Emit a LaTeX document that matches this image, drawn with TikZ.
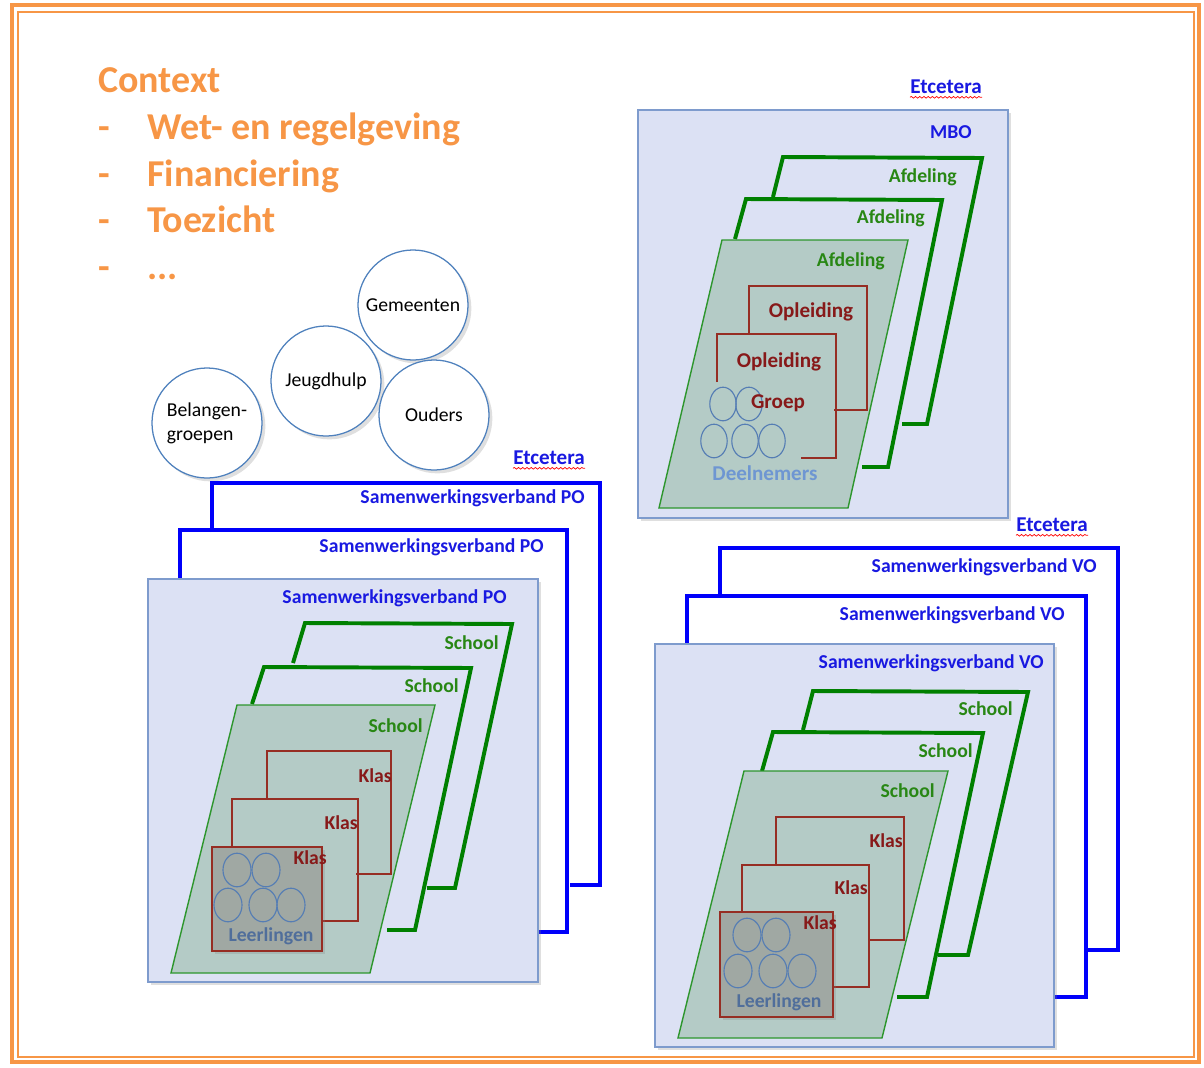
\documentclass[tikz,border=0pt]{standalone}
\usepackage{fontspec}
\setmainfont{Carlito}
\usepackage{tikz}
\usetikzlibrary{shapes,shadows,decorations.pathmorphing}

\definecolor{ctxorange}{RGB}{247,150,70}
\definecolor{verbandblue}{RGB}{0,0,250}
\definecolor{lblblue}{RGB}{25,25,225}
\definecolor{boxfill}{RGB}{220,225,244}
\definecolor{boxborder}{RGB}{126,155,205}
\definecolor{schoolgreen}{RGB}{0,128,0}
\definecolor{frontgreen}{RGB}{45,150,45}
\definecolor{frontfill}{RGB}{180,203,198}
\definecolor{schooltext}{RGB}{40,135,20}
\definecolor{klasred}{RGB}{150,45,35}
\definecolor{klastext}{RGB}{135,25,25}
\definecolor{klasfill}{RGB}{160,168,163}
\definecolor{pupilblue}{RGB}{85,125,180}
\definecolor{pupiltext}{RGB}{80,110,155}
\definecolor{deeltext}{RGB}{110,150,210}
\definecolor{circblue}{RGB}{79,129,189}

\begin{document}
\begin{tikzpicture}[x=0.025cm, y=-0.025cm]
        \tikzstyle{verband} = [draw=verbandblue, line width=2.8pt]
        \tikzstyle{bestuur} = [draw=boxborder, fill=boxfill, line width=0.9pt, drop shadow={opacity=0.25}]
        \tikzstyle{school} = [draw=schoolgreen, line width=2.8pt]
        \tikzstyle{schoolfront} = [draw=frontgreen, fill=frontfill, line width=1pt]
        \tikzstyle{klas} = [draw=klasred, line width=1.1pt]
        \tikzstyle{klasfront} = [klas, fill=klasfill, drop shadow={opacity=0.25}]
        \tikzstyle{pupil} = [draw=pupilblue, line width=0.8pt]
        \tikzstyle{actor} = [circle, draw=circblue, fill=white, line width=0.9pt, minimum size=2.75cm, inner sep=0pt, font=\fontsize{14}{17}\selectfont, drop shadow={opacity=0.25}]
        \tikzstyle{ctx} = [inner sep=0pt, anchor=base west, text=ctxorange, font=\bfseries\fontsize{27}{32}\selectfont]
        \tikzstyle{lbl} = [inner sep=0pt, anchor=east, font=\bfseries\fontsize{14}{16}\selectfont]
        \tikzstyle{verbandlbl} = [lbl, text=lblblue]
        \tikzstyle{schoollbl} = [lbl, text=schooltext]
        \tikzstyle{klaslbl} = [lbl, text=klastext]
        \tikzstyle{etc} = [inner sep=0pt, anchor=west, text=lblblue, font=\bfseries\fontsize{15}{17}\selectfont]
        \tikzstyle{spell} = [draw=red, line width=0.5pt, decorate, decoration={snake, segment length=3pt, amplitude=0.6pt}]

        \useasboundingbox (0,0) rectangle (1204,1067);

        % Frame
        \draw[ctxorange, line width=3pt] (12,5) rectangle (1199,1062);
        \draw[ctxorange, line width=1.2pt] (18,12) rectangle (1194,1057);

        % Context
        \node[ctx] (ctx) at (98,92) {Context};
        \node[ctx] (dash1) at (98,139) {-};
        \node[ctx] (wet) at (147,139) {Wet- en regelgeving};
        \node[ctx] (dash2) at (98,186) {-};
        \node[ctx] (fin) at (147,186) {Financiering};
        \node[ctx] (dash3) at (98,232) {-};
        \node[ctx] (toe) at (147,232) {Toezicht};
        \node[ctx] (dash4) at (98,279) {-};
        \node[ctx] (more) at (147,279) {...};

        \node[actor] (gem) at (413,305) {Gemeenten};
        \node[actor] (jeugd) at (326,381) {Jeugdhulp};
        \node[actor] (ouders) at (434,415) {Ouders};
        \node[actor, align=left] (belang) at (207,423) {Belangen-\\groepen};

        % Samenwerkingsverband PO
        \draw[verband] (212,532) -- (212,483) -- (600,483) -- (600,885) -- (570,885);
        \draw[verband] (180,578) -- (180,530) -- (567,530) -- (567,932) -- (538,932);
        \draw[bestuur] (148,579) rectangle (538,982);
        \draw[school] (293,663) -- (305,623) -- (512,624) -- (455,888) -- (427,888);
        \draw[school] (252,704) -- (264,667) -- (471,668) -- (415,930) -- (387,930);
        \draw[schoolfront] (237,705) -- (435,705) -- (370,973) -- (171,973) -- cycle;
        \draw[klas] (267,799) -- (267,751) -- (391,751) -- (391,874) -- (356,874);
        \draw[klas] (232,847) -- (232,799) -- (358,799) -- (358,921) -- (322,921);
        \draw[klasfront] (212,847) rectangle (322,951);
        \draw[pupil] (237,870) ellipse [x radius=0.35cm, y radius=0.42cm];
        \draw[pupil] (266,870) ellipse [x radius=0.35cm, y radius=0.42cm];
        \draw[pupil] (228,905) ellipse [x radius=0.35cm, y radius=0.42cm];
        \draw[pupil] (263,905) ellipse [x radius=0.35cm, y radius=0.42cm];
        \draw[pupil] (291,905) ellipse [x radius=0.35cm, y radius=0.42cm];

        \node[etc] (etcpo) at (513,458) {Etcetera};
        \draw[spell] ([yshift=-2.5pt]etcpo.base west) -- ([yshift=-2.5pt]etcpo.base east);
        \node[verbandlbl] (po1) at (585,498) {Samenwerkingsverband PO};
        \node[verbandlbl] (po2) at (544,547) {Samenwerkingsverband PO};
        \node[verbandlbl] (po3) at (507,598) {Samenwerkingsverband PO};
        \node[schoollbl] (posch1) at (499,643) {School};
        \node[schoollbl] (posch2) at (459,686) {School};
        \node[schoollbl] (posch3) at (423,726) {School};
        \node[klaslbl] (poklas1) at (392,776) {Klas};
        \node[klaslbl] (poklas2) at (358,823) {Klas};
        \node[klaslbl] (poklas3) at (327,858) {Klas};
        \node[lbl, anchor=center, text=pupiltext] (poleer) at (271,936) {Leerlingen};

        % MBO
        \draw[bestuur] (638,110) rectangle (1008,518);
        \draw[school] (773,197) -- (783,157) -- (982,158) -- (927,424) -- (902,424);
        \draw[school] (735,239) -- (746,199) -- (942,200) -- (888,467) -- (862,467);
        \draw[schoolfront] (722,240) -- (908,240) -- (848,508) -- (659,508) -- cycle;
        \draw[klas] (749,334) -- (749,286) -- (867,286) -- (867,410) -- (834,410);
        \draw[klas] (717,382) -- (717,334) -- (836,334) -- (836,458) -- (801,458);
        \draw[pupil] (723,404) ellipse [x radius=0.33cm, y radius=0.42cm];
        \draw[pupil] (749,404) ellipse [x radius=0.33cm, y radius=0.42cm];
        \draw[pupil] (714,441) ellipse [x radius=0.33cm, y radius=0.42cm];
        \draw[pupil] (745,441) ellipse [x radius=0.33cm, y radius=0.42cm];
        \draw[pupil] (772,441) ellipse [x radius=0.33cm, y radius=0.42cm];

        \node[etc] (etcmbo) at (910,87) {Etcetera};
        \draw[spell] ([yshift=-2.5pt]etcmbo.base west) -- ([yshift=-2.5pt]etcmbo.base east);
        \node[verbandlbl] (mbo) at (972,132) {MBO};
        \node[schoollbl] (afd1) at (957,177) {Afdeling};
        \node[schoollbl] (afd2) at (925,218) {Afdeling};
        \node[schoollbl] (afd3) at (885,261) {Afdeling};
        \node[klaslbl, anchor=center, font=\bfseries\fontsize{15}{17}\selectfont] (opl1) at (811,312) {Opleiding};
        \node[klaslbl, anchor=center, font=\bfseries\fontsize{15}{17}\selectfont] (opl2) at (779,362) {Opleiding};
        \node[klaslbl, anchor=center, font=\bfseries\fontsize{15}{17}\selectfont] (groep) at (778,403) {Groep};
        \node[lbl, anchor=center, text=deeltext, font=\bfseries\fontsize{15}{17}\selectfont] (deel) at (765,473) {Deelnemers};

        % Samenwerkingsverband VO
        \draw[verband] (720,596) -- (720,548) -- (1118,548) -- (1118,950) -- (1087,950);
        \draw[verband] (687,644) -- (687,596) -- (1086,596) -- (1086,997) -- (1054,997);
        \draw[bestuur] (655,644) rectangle (1054,1047);
        \draw[school] (803,730) -- (813,691) -- (1028,692) -- (968,955) -- (938,955);
        \draw[school] (762,771) -- (773,732) -- (983,733) -- (927,997) -- (897,997);
        \draw[schoolfront] (744,771) -- (948,771) -- (882,1038) -- (678,1038) -- cycle;
        \draw[klas] (776,865) -- (776,817) -- (904,817) -- (904,940) -- (868,940);
        \draw[klas] (742,912) -- (742,865) -- (869,865) -- (869,987) -- (833,987);
        \draw[klasfront] (720,912) rectangle (833,1017);
        \draw[pupil] (747,935) ellipse [x radius=0.35cm, y radius=0.42cm];
        \draw[pupil] (776,935) ellipse [x radius=0.35cm, y radius=0.42cm];
        \draw[pupil] (738,971) ellipse [x radius=0.35cm, y radius=0.42cm];
        \draw[pupil] (773,971) ellipse [x radius=0.35cm, y radius=0.42cm];
        \draw[pupil] (802,971) ellipse [x radius=0.35cm, y radius=0.42cm];

        \node[etc] (etcvo) at (1016,525) {Etcetera};
        \draw[spell] ([yshift=-2.5pt]etcvo.base west) -- ([yshift=-2.5pt]etcvo.base east);
        \node[verbandlbl] (vo1) at (1097,567) {Samenwerkingsverband VO};
        \node[verbandlbl] (vo2) at (1065,615) {Samenwerkingsverband VO};
        \node[verbandlbl] (vo3) at (1044,663) {Samenwerkingsverband VO};
        \node[schoollbl] (vosch1) at (1013,709) {School};
        \node[schoollbl] (vosch2) at (973,751) {School};
        \node[schoollbl] (vosch3) at (935,791) {School};
        \node[klaslbl] (voklas1) at (903,841) {Klas};
        \node[klaslbl] (voklas2) at (868,888) {Klas};
        \node[klaslbl] (voklas3) at (837,923) {Klas};
        \node[lbl, anchor=center, text=pupiltext] (voleer) at (779,1002) {Leerlingen};
    \end{tikzpicture}
\end{document}
